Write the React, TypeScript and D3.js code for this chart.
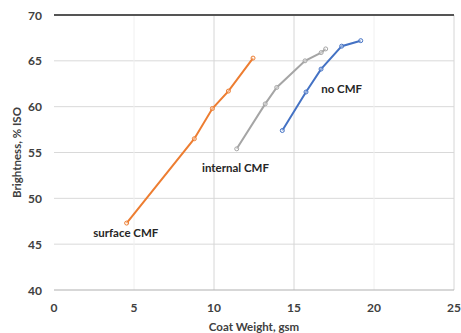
import React, { useRef, useEffect } from "react";
import * as d3 from "d3";

const surfaceX = [4.54, 8.77, 9.9, 10.9, 12.44];
const surfaceY = [47.3, 56.5, 59.8, 61.7, 65.3];
const internalX = [11.42, 13.2, 13.92, 15.69, 16.7, 16.98];
const internalY = [55.4, 60.3, 62.1, 65.0, 65.9, 66.3];
const noCmfX = [14.27, 15.75, 16.69, 17.98, 19.17];
const noCmfY = [57.4, 61.6, 64.1, 66.6, 67.2];

const seriesNames = ["surface CMF", "internal CMF", "no CMF"];
const seriesColors = ["#ED7D31", "#A5A5A5", "#4472C4"];
// label anchor (left/baseline), in data units
const labelX = [2.45, 9.25, 16.7];
const labelY = [45.8, 52.9, 61.5];

const xTicks = [0, 5, 10, 15, 20, 25];
const yTicks = [40, 45, 50, 55, 60, 65, 70];

const ChartPlot: React.FC = () => {
  const ref = useRef<SVGSVGElement | null>(null);

  useEffect(() => {
    const width = 461;
    const height = 333;
    const margin = { top: 15, right: 7, bottom: 43, left: 54 };
    const font = "Lato, 'Open Sans', sans-serif";

    const x = d3
      .scaleLinear()
      .domain([0, 25])
      .range([margin.left, width - margin.right]);
    const y = d3
      .scaleLinear()
      .domain([40, 70])
      .range([height - margin.bottom, margin.top]);

    const svg = d3
      .select(ref.current)
      .attr("width", width)
      .attr("height", height)
      .style("display", "block")
      .style("background", "#fff");
    svg.selectAll("*").remove();

    // horizontal grid
    svg
      .append("g")
      .selectAll("line")
      .data(yTicks.filter((t) => t > 40 && t < 70))
      .join("line")
      .attr("x1", x(0))
      .attr("x2", x(25))
      .attr("y1", (d) => y(d))
      .attr("y2", (d) => y(d))
      .attr("stroke", "#d9d9d9")
      .attr("stroke-width", 1);

    // vertical grid (5 and 20 almost washed out in the original)
    svg
      .append("g")
      .selectAll("line")
      .data(xTicks.filter((t) => t > 0))
      .join("line")
      .attr("x1", (d) => x(d))
      .attr("x2", (d) => x(d))
      .attr("y1", y(70))
      .attr("y2", y(40))
      .attr("stroke", (d) => (d === 5 || d === 20 ? "#f0f0f0" : "#d6d6d6"))
      .attr("stroke-width", 1);

    // top border and bottom axis
    svg
      .append("line")
      .attr("x1", x(0))
      .attr("x2", x(25))
      .attr("y1", y(70))
      .attr("y2", y(70))
      .attr("stroke", "#555")
      .attr("stroke-width", 2);
    svg
      .append("line")
      .attr("x1", x(0))
      .attr("x2", x(25))
      .attr("y1", y(40))
      .attr("y2", y(40))
      .attr("stroke", "#b0b0b0")
      .attr("stroke-width", 1.2);

    // tick labels
    svg
      .append("g")
      .selectAll("text")
      .data(yTicks)
      .join("text")
      .attr("x", x(0) - 12)
      .attr("y", (d) => y(d) + 4.5)
      .attr("text-anchor", "end")
      .attr("fill", "#404040")
      .style("font", `bold 12px ${font}`)
      .text((d) => d);
    svg
      .append("g")
      .selectAll("text")
      .data(xTicks)
      .join("text")
      .attr("x", (d) => x(d))
      .attr("y", y(40) + 22)
      .attr("text-anchor", "middle")
      .attr("fill", "#404040")
      .style("font", `bold 12px ${font}`)
      .text((d) => d);

    // axis titles
    svg
      .append("text")
      .attr("x", (x(0) + x(25)) / 2)
      .attr("y", height - 2)
      .attr("text-anchor", "middle")
      .attr("fill", "#404040")
      .style("font", `bold 11.5px ${font}`)
      .text("Coat Weight, gsm");
    svg
      .append("text")
      .attr("transform", `translate(21,${(y(40) + y(70)) / 2}) rotate(-90)`)
      .attr("text-anchor", "middle")
      .attr("fill", "#404040")
      .style("font", `bold 11.5px ${font}`)
      .text("Brightness, % ISO");

    const series = [
      { xs: surfaceX, ys: surfaceY },
      { xs: internalX, ys: internalY },
      { xs: noCmfX, ys: noCmfY },
    ];

    const line = d3
      .line<[number, number]>()
      .x((d) => x(d[0]))
      .y((d) => y(d[1]));

    series.forEach((s, i) => {
      const pts: [number, number][] = s.xs.map((v, j) => [v, s.ys[j]]);
      svg
        .append("path")
        .datum(pts)
        .attr("d", line)
        .attr("fill", "none")
        .attr("stroke", seriesColors[i])
        .attr("stroke-width", 2);
      svg
        .append("g")
        .selectAll("circle")
        .data(pts)
        .join("circle")
        .attr("cx", (d) => x(d[0]))
        .attr("cy", (d) => y(d[1]))
        .attr("r", 2)
        .attr("fill", "#fff")
        .attr("fill-opacity", 0.4)
        .attr("stroke", seriesColors[i])
        .attr("stroke-width", 1);
      svg
        .append("text")
        .attr("x", x(labelX[i]))
        .attr("y", y(labelY[i]))
        .attr("fill", "#262626")
        .style("font", `bold 11.5px ${font}`)
        .text(seriesNames[i]);
    });
  }, []);

  return <svg ref={ref}></svg>;
};

export default function App() {
  return (
    <div style={{ position: "absolute", left: 0, top: 0 }}>
      <ChartPlot />
    </div>
  );
}
